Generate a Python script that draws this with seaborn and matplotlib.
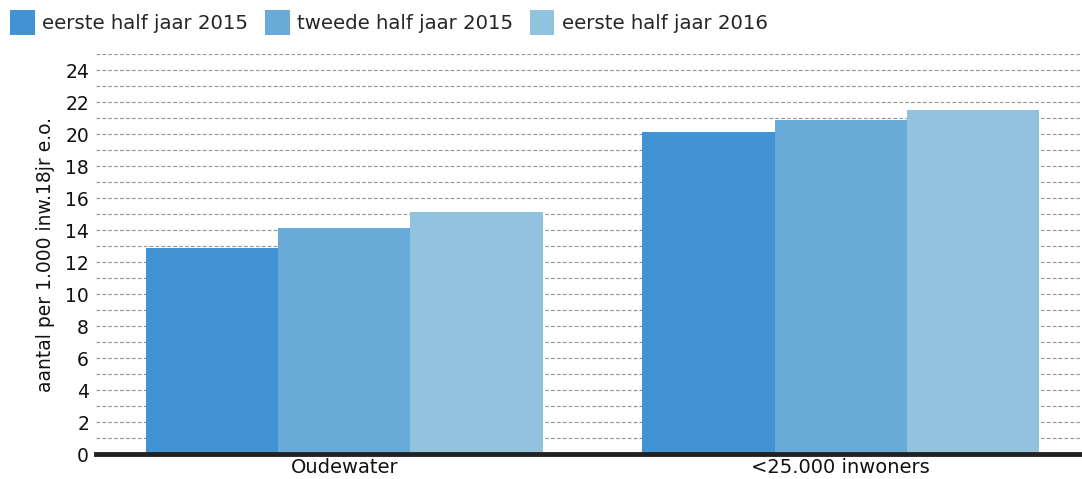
import matplotlib
matplotlib.use("Agg")
import matplotlib.pyplot as plt
import seaborn as sns
import pandas as pd
from matplotlib.ticker import MultipleLocator
from matplotlib.patches import Patch

categories = ["Oudewater", "<25.000 inwoners"]
series = ["eerste half jaar 2015", "tweede half jaar 2015", "eerste half jaar 2016"]
values_h1_2015 = [12.9, 20.1]
values_h2_2015 = [14.15, 20.9]
values_h1_2016 = [15.15, 21.5]
colors = ["#4193d3", "#68abd8", "#92c3de"]
ylabel = "aantal per 1.000 inw.18jr e.o."

rows = []
for s, vals in zip(series, [values_h1_2015, values_h2_2015, values_h1_2016]):
    for c, v in zip(categories, vals):
        rows.append({"cat": c, "serie": s, "val": v})
df = pd.DataFrame(rows)

sns.set_style("white")
plt.rcParams["font.family"] = ["DejaVu Sans"]

fig = plt.figure(figsize=(10.82, 4.79), dpi=100)
# the plot area extends slightly beyond the right image edge in the reference
ax = fig.add_axes([96/1082, 25/479, (1089-96)/1082, (454-54)/479])

sns.barplot(data=df, x="cat", y="val", hue="serie", order=categories,
            hue_order=series, palette=colors, width=0.8, saturation=1,
            ax=ax, legend=False, linewidth=0, zorder=2)

ax.set_ylim(0, 25)
ax.set_xlim(-0.5, 1.5)
ax.yaxis.set_major_locator(MultipleLocator(2))
ax.yaxis.set_minor_locator(MultipleLocator(1))
ax.grid(True, axis="y", which="both", linestyle=(0, (3.2, 1.8)), color="#999999",
        linewidth=0.85, zorder=0)
ax.set_axisbelow(True)
for s in ["top", "right", "left"]:
    ax.spines[s].set_visible(False)
ax.spines["bottom"].set_linewidth(3.5)
ax.spines["bottom"].set_color("#222222")
ax.spines["bottom"].set_zorder(5)
ax.tick_params(axis="y", which="both", length=0, pad=5, labelsize=13.5, labelcolor="#111111")
ax.tick_params(axis="x", length=0, pad=3, labelsize=14, labelcolor="#111111")
ax.set_xlabel("")
ax.set_ylabel(ylabel, fontsize=13.5, color="#111111", labelpad=7)

handles = [Patch(facecolor=c, edgecolor="none") for c in colors]
fig.legend(handles, series, loc="upper left", bbox_to_anchor=(0.002, 0.996), ncol=3,
           frameon=False, fontsize=14.2, handlelength=1.26, handleheight=1.6,
           handletextpad=0.36, columnspacing=0.85, borderaxespad=0.0)

fig.savefig("out.png", dpi=100)
